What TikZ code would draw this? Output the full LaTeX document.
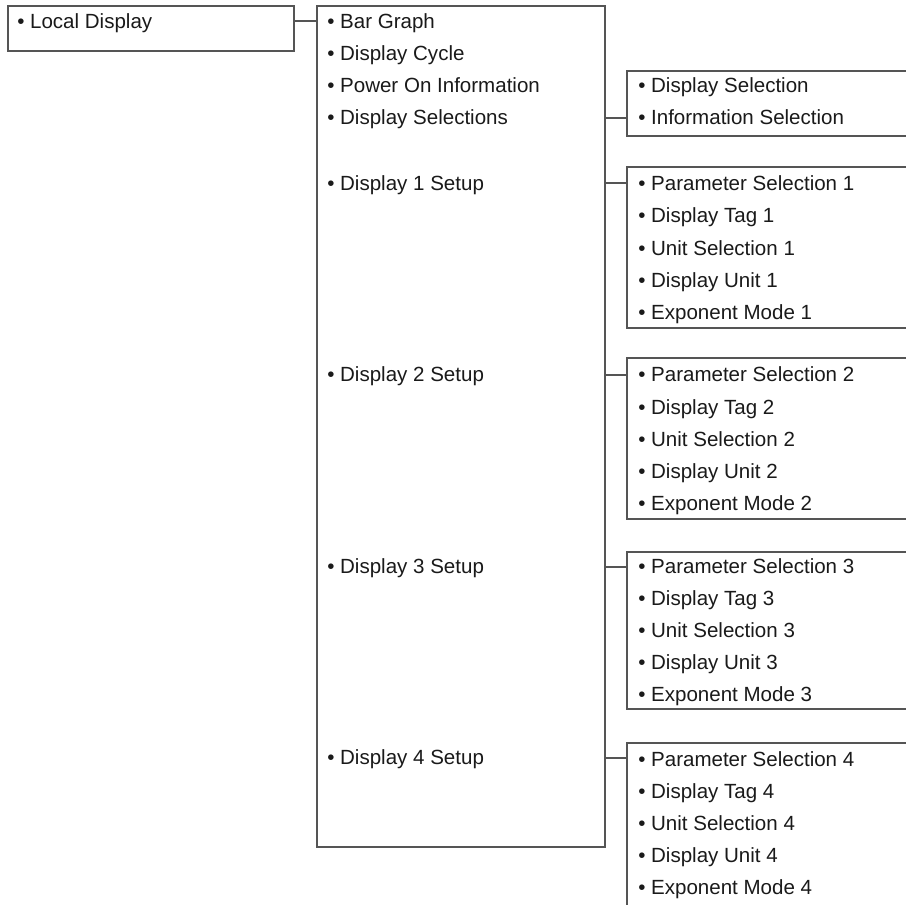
\documentclass[tikz,border=0pt]{standalone}
\usepackage{fontspec}
\setmainfont{Liberation Sans}
\definecolor{linec}{HTML}{555555}
\definecolor{textc}{HTML}{1A1A1A}
\tikzset{
  box/.style={draw=linec, line width=1.3pt, fill=none, inner sep=0pt, anchor=north west},
  conn/.style={draw=linec, line width=1.3pt},
  item/.style={anchor=base west, inner sep=0pt, text=textc, font=\fontsize{15.4pt}{18pt}\selectfont},
}
\newcommand{\itm}[4]{\node[item] (#1) at (#2,#3) {\textbullet\ #4};}
\begin{document}
\begin{tikzpicture}[x=0.75pt,y=-0.75pt]
\useasboundingbox (0,0) rectangle (906,905);
\clip (0,0) rectangle (906,905);
\fill[white] (0,0) rectangle (906,905);
% boxes
\node[box, minimum width=286*0.75pt, minimum height=45*0.75pt] (ld) at (7,5) {};
\node[box, minimum width=288*0.75pt, minimum height=841*0.75pt] (main) at (316,5) {};
\node[box, minimum width=340*0.75pt, minimum height=65*0.75pt] (b1) at (626,70) {};
\node[box, minimum width=340*0.75pt, minimum height=161*0.75pt] (b2) at (626,166) {};
\node[box, minimum width=340*0.75pt, minimum height=161*0.75pt] (b3) at (626,357) {};
\node[box, minimum width=340*0.75pt, minimum height=157*0.75pt] (b4) at (626,551) {};
\node[box, minimum width=340*0.75pt, minimum height=200*0.75pt] (b5) at (626,742) {};
% texts
\itm{t0}{17}{29}{Local Display}
\itm{m1}{327}{29}{Bar Graph}
\itm{m2}{327}{61}{Display Cycle}
\itm{m3}{327}{93}{Power On Information}
\itm{m4}{327}{125}{Display Selections}
\itm{m5}{327}{191}{Display 1 Setup}
\itm{m6}{327}{382}{Display 2 Setup}
\itm{m7}{327}{573}{Display 3 Setup}
\itm{m8}{327}{764}{Display 4 Setup}
\itm{a1}{638}{93}{Display Selection}
\itm{a2}{638}{125}{Information Selection}
\foreach \n/\y in {1/191,2/382,3/573} {
  \itm{p\n}{638}{\y}{Parameter Selection \n}
  \itm{g\n}{638}{\y+32}{Display Tag \n}
  \itm{u\n}{638}{\y+64.5}{Unit Selection \n}
  \itm{d\n}{638}{\y+96.5}{Display Unit \n}
  \itm{e\n}{638}{\y+128.5}{Exponent Mode \n}
}
\itm{p4}{638}{766}{Parameter Selection 4}
\itm{g4}{638}{798}{Display Tag 4}
\itm{u4}{638}{830.5}{Unit Selection 4}
\itm{d4}{638}{862.5}{Display Unit 4}
\itm{e4}{638}{894.5}{Exponent Mode 4}
% connectors
\coordinate (j0) at (0,21);
\coordinate (j1) at (0,118);
\coordinate (j2) at (0,183);
\coordinate (j3) at (0,375);
\coordinate (j4) at (0,567);
\coordinate (j5) at (0,758);
\draw[conn] (ld.east |- j0) -- (main.west |- j0);
\draw[conn] (main.east |- j1) -- (b1.west |- j1);
\draw[conn] (main.east |- j2) -- (b2.west |- j2);
\draw[conn] (main.east |- j3) -- (b3.west |- j3);
\draw[conn] (main.east |- j4) -- (b4.west |- j4);
\draw[conn] (main.east |- j5) -- (b5.west |- j5);
\end{tikzpicture}
\end{document}
